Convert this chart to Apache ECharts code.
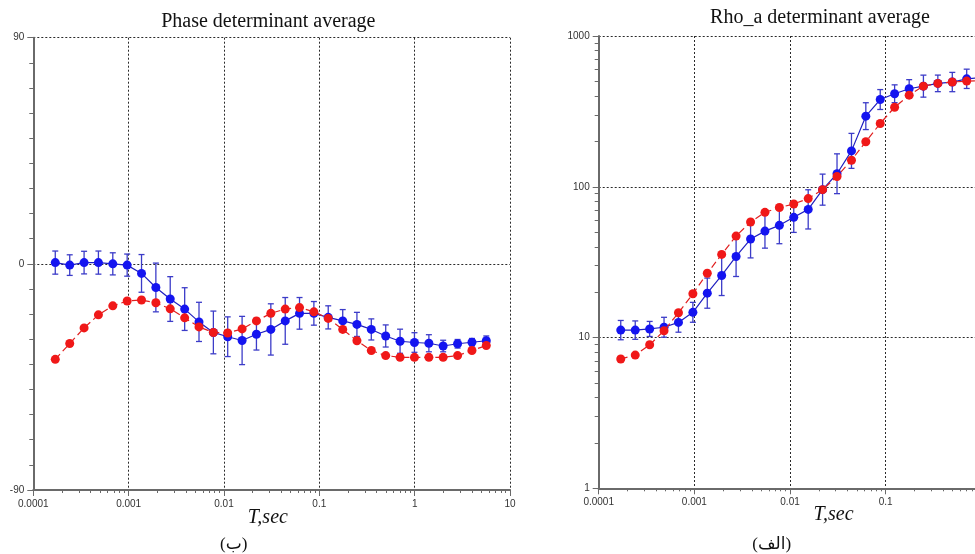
<!DOCTYPE html>
<html><head><meta charset="utf-8">
<script src="https://cdn.jsdelivr.net/npm/echarts@6/dist/echarts.min.js"></script>
<style>html,body{margin:0;padding:0;background:#fff}#c{width:975px;height:554px}</style>
</head><body><div id="c"></div>
<script>
// Periods (T, sec)
const periods = [0.000170, 0.000241, 0.000341, 0.000482, 0.000682, 0.000965, 0.001365, 0.00193, 0.00273, 0.00387,
  0.00547, 0.00774, 0.01094, 0.01549, 0.0219, 0.0310, 0.0439, 0.0620, 0.0877, 0.124,
  0.176, 0.248, 0.351, 0.497, 0.703, 0.995, 1.41, 1.99, 2.82, 3.99, 5.64];

// Phase (degrees)
const phaseBlue = [0.5, -0.5, 0.5, 0.5, 0, -0.5, -3.8, -9.4, -14.0, -18.0,
  -23.1, -27.3, -29.0, -30.5, -28.0, -26.1, -22.7, -19.7, -19.7, -21.3,
  -22.7, -24.1, -26.1, -28.7, -30.8, -31.3, -31.6, -32.7, -31.8, -31.2, -30.6];
const phaseBlueErr = [4.6, 4.1, 4.5, 4.6, 4.4, 4.4, 7.5, 9.7, 8.9, 8.5,
  7.8, 8.5, 7.9, 9.6, 6.3, 10.2, 9.3, 6.3, 4.7, 4.6,
  4.5, 4.8, 4.2, 4.4, 4.8, 3.9, 3.4, 2.3, 1.7, 1.5, 1.9];
const phaseRed = [-38.0, -31.7, -25.5, -20.3, -16.7, -14.8, -14.4, -15.5, -17.9, -21.5,
  -25.1, -27.3, -27.5, -25.9, -22.7, -19.7, -18.0, -17.4, -19.1, -21.7,
  -26.1, -30.6, -34.5, -36.5, -37.2, -37.2, -37.2, -37.2, -36.5, -34.5, -32.5];

// Apparent resistivity (ohm.m)
const rhoBlue = [11.2, 11.2, 11.4, 11.7, 12.6, 14.7, 19.7, 25.8, 34.5, 45.0,
  50.8, 55.5, 62.7, 70.8, 95.7, 122, 173, 294, 379, 414,
  447, 465, 485, 495, 520, 530];
// error half-width in decades (log10 units)
const rhoBlueErrLog = [0.064, 0.061, 0.050, 0.066, 0.065, 0.066, 0.100, 0.133, 0.133, 0.125,
  0.113, 0.122, 0.100, 0.130, 0.103, 0.132, 0.116, 0.089, 0.066, 0.059,
  0.060, 0.073, 0.055, 0.064, 0.064, 0.064];
const rhoRed = [7.2, 7.65, 8.95, 11.1, 14.6, 19.5, 26.7, 35.6, 47.1, 58.4,
  67.7, 72.8, 76.9, 83.5, 95.7, 117, 150, 199, 263, 337,
  405, 465, 485, 495, 502, 505];

const xTickLabels = ['0.0001', '0.001', '0.01', '0.1', '1', '10'];
const phaseTickLabels = ['-90', '0', '90'];
const rhoTickLabels = ['1', '10', '100', '1000'];

const BLUE = '#1414f0', BLUE_LINE = '#2020c0', ERR = '#3c3cc8', RED = '#f01818', RED_LINE = '#e02020';
const AX = '#6a6a6a';

function fmtX(v) {
  const k = Math.round(Math.log10(v)) + 4;
  return xTickLabels[k] !== undefined ? xTickLabels[k] : '';
}

function xAxisCfg(gi) {
  return {
    type: 'log', gridIndex: gi, logBase: 10, min: 0.0001, max: 10,
    axisLine: {show: true, onZero: false, lineStyle: {color: AX, width: 2}},
    axisTick: {show: true, inside: false, length: 6, lineStyle: {color: AX, width: 1}},
    minorTick: {show: true, splitNumber: 9, length: 3, lineStyle: {color: AX, width: 1}},
    axisLabel: {formatter: fmtX, fontSize: 10, color: '#333', margin: 9, fontFamily: 'Liberation Sans, Arial, sans-serif', showMinLabel: true, showMaxLabel: true},
    splitLine: {show: true, lineStyle: {color: '#2a2a2a', type: [2, 2], width: 1}},
    minorSplitLine: {show: false}
  };
}

const errPhase = periods.map((t, i) => [t, phaseBlue[i] - phaseBlueErr[i], phaseBlue[i] + phaseBlueErr[i]]);
const errRho = rhoBlue.map((v, i) => [periods[i], v / Math.pow(10, rhoBlueErrLog[i]), v * Math.pow(10, rhoBlueErrLog[i])]);

function errRender(params, api) {
  const x = api.value(0), lo = api.value(1), hi = api.value(2);
  const p1 = api.coord([x, lo]), p2 = api.coord([x, hi]);
  const w = 3;
  const style = {stroke: ERR, lineWidth: 1.3, fill: null};
  return {type: 'group', children: [
    {type: 'line', shape: {x1: p1[0], y1: p1[1], x2: p2[0], y2: p2[1]}, style: style},
    {type: 'line', shape: {x1: p1[0] - w, y1: p1[1], x2: p1[0] + w, y2: p1[1]}, style: style},
    {type: 'line', shape: {x1: p2[0] - w, y1: p2[1], x2: p2[0] + w, y2: p2[1]}, style: style}
  ]};
}

function txt(x, y, text, font) {
  return {type: 'text', x: x, y: y, silent: true,
    style: {text: text, font: font, fill: '#111', textAlign: 'center', textVerticalAlign: 'middle', align: 'center', verticalAlign: 'middle'}};
}

const chart = echarts.init(document.getElementById('c'), null, {renderer: 'canvas'});
chart.setOption({
  animation: false,
  backgroundColor: '#fff',
  grid: [
    {left: 33.3, top: 37.7, width: 476.7, height: 452.3, containLabel: false, outerBoundsMode: 'none'},
    {left: 598.7, top: 36, right: -102, height: 452.3, containLabel: false, outerBoundsMode: 'none'}
  ],
  xAxis: [xAxisCfg(0), xAxisCfg(1)],
  yAxis: [
    {type: 'value', gridIndex: 0, min: -90, max: 90, interval: 90,
      axisLine: {show: true, lineStyle: {color: AX, width: 2}},
      axisTick: {show: true, inside: false, length: 6, lineStyle: {color: AX, width: 1}},
      minorTick: {show: true, splitNumber: 9, length: 4, lineStyle: {color: AX, width: 1}},
      axisLabel: {fontSize: 10, color: '#333', margin: 9, fontFamily: 'Liberation Sans, Arial, sans-serif',
        formatter: v => phaseTickLabels[Math.round((v + 90) / 90)]},
      splitLine: {show: true, lineStyle: {color: '#2a2a2a', type: [2, 2], width: 1}}
    },
    {type: 'log', gridIndex: 1, logBase: 10, min: 1, max: 1000, splitNumber: 3,
      axisLine: {show: true, lineStyle: {color: AX, width: 2}},
      axisTick: {show: true, inside: false, length: 6, lineStyle: {color: AX, width: 1}},
      minorTick: {show: true, splitNumber: 9, length: 4, lineStyle: {color: AX, width: 1}},
      axisLabel: {fontSize: 10, color: '#333', margin: 9, fontFamily: 'Liberation Sans, Arial, sans-serif',
        formatter: v => rhoTickLabels[Math.round(Math.log10(v))]},
      splitLine: {show: true, lineStyle: {color: '#2a2a2a', type: [2, 2], width: 1}}
    }
  ],
  series: [
    {type: 'custom', xAxisIndex: 0, yAxisIndex: 0, data: errPhase, renderItem: errRender, encode: {x: 0, y: [1, 2]}, z: 2},
    {type: 'line', xAxisIndex: 0, yAxisIndex: 0, data: periods.map((t, i) => [t, phaseBlue[i]]),
      symbol: 'circle', symbolSize: 9, itemStyle: {color: BLUE}, lineStyle: {color: BLUE_LINE, width: 1.2}, z: 3},
    {type: 'line', xAxisIndex: 0, yAxisIndex: 0, data: periods.map((t, i) => [t, phaseRed[i]]),
      symbol: 'circle', symbolSize: 9, itemStyle: {color: RED}, lineStyle: {color: RED_LINE, width: 1.2, type: [7, 4]}, z: 4},
    {type: 'custom', xAxisIndex: 1, yAxisIndex: 1, data: errRho, renderItem: errRender, encode: {x: 0, y: [1, 2]}, z: 2},
    {type: 'line', xAxisIndex: 1, yAxisIndex: 1, data: rhoBlue.map((v, i) => [periods[i], v]),
      symbol: 'circle', symbolSize: 9, itemStyle: {color: BLUE}, lineStyle: {color: BLUE_LINE, width: 1.2}, z: 3},
    {type: 'line', xAxisIndex: 1, yAxisIndex: 1, data: rhoRed.map((v, i) => [periods[i], v]),
      symbol: 'circle', symbolSize: 9, itemStyle: {color: RED}, lineStyle: {color: RED_LINE, width: 1.2, type: [7, 4]}, z: 4}
  ],
  graphic: [
    txt(268.3, 21.5, 'Phase determinant average', '20px "Liberation Serif", "Times New Roman", serif'),
    txt(820, 18, 'Rho_a determinant average', '20px "Liberation Serif", "Times New Roman", serif'),
    txt(267.8, 518, 'T,sec', 'italic 20px "Liberation Serif", "Times New Roman", serif'),
    txt(833.5, 515, 'T,sec', 'italic 20px "Liberation Serif", "Times New Roman", serif'),
    txt(233.7, 545, '(ب)', '17px "Liberation Serif", "DejaVu Sans", serif'),
    txt(771.7, 545, '(الف)', '17px "Liberation Serif", "DejaVu Sans", serif')
  ]
});
</script>
</body></html>
